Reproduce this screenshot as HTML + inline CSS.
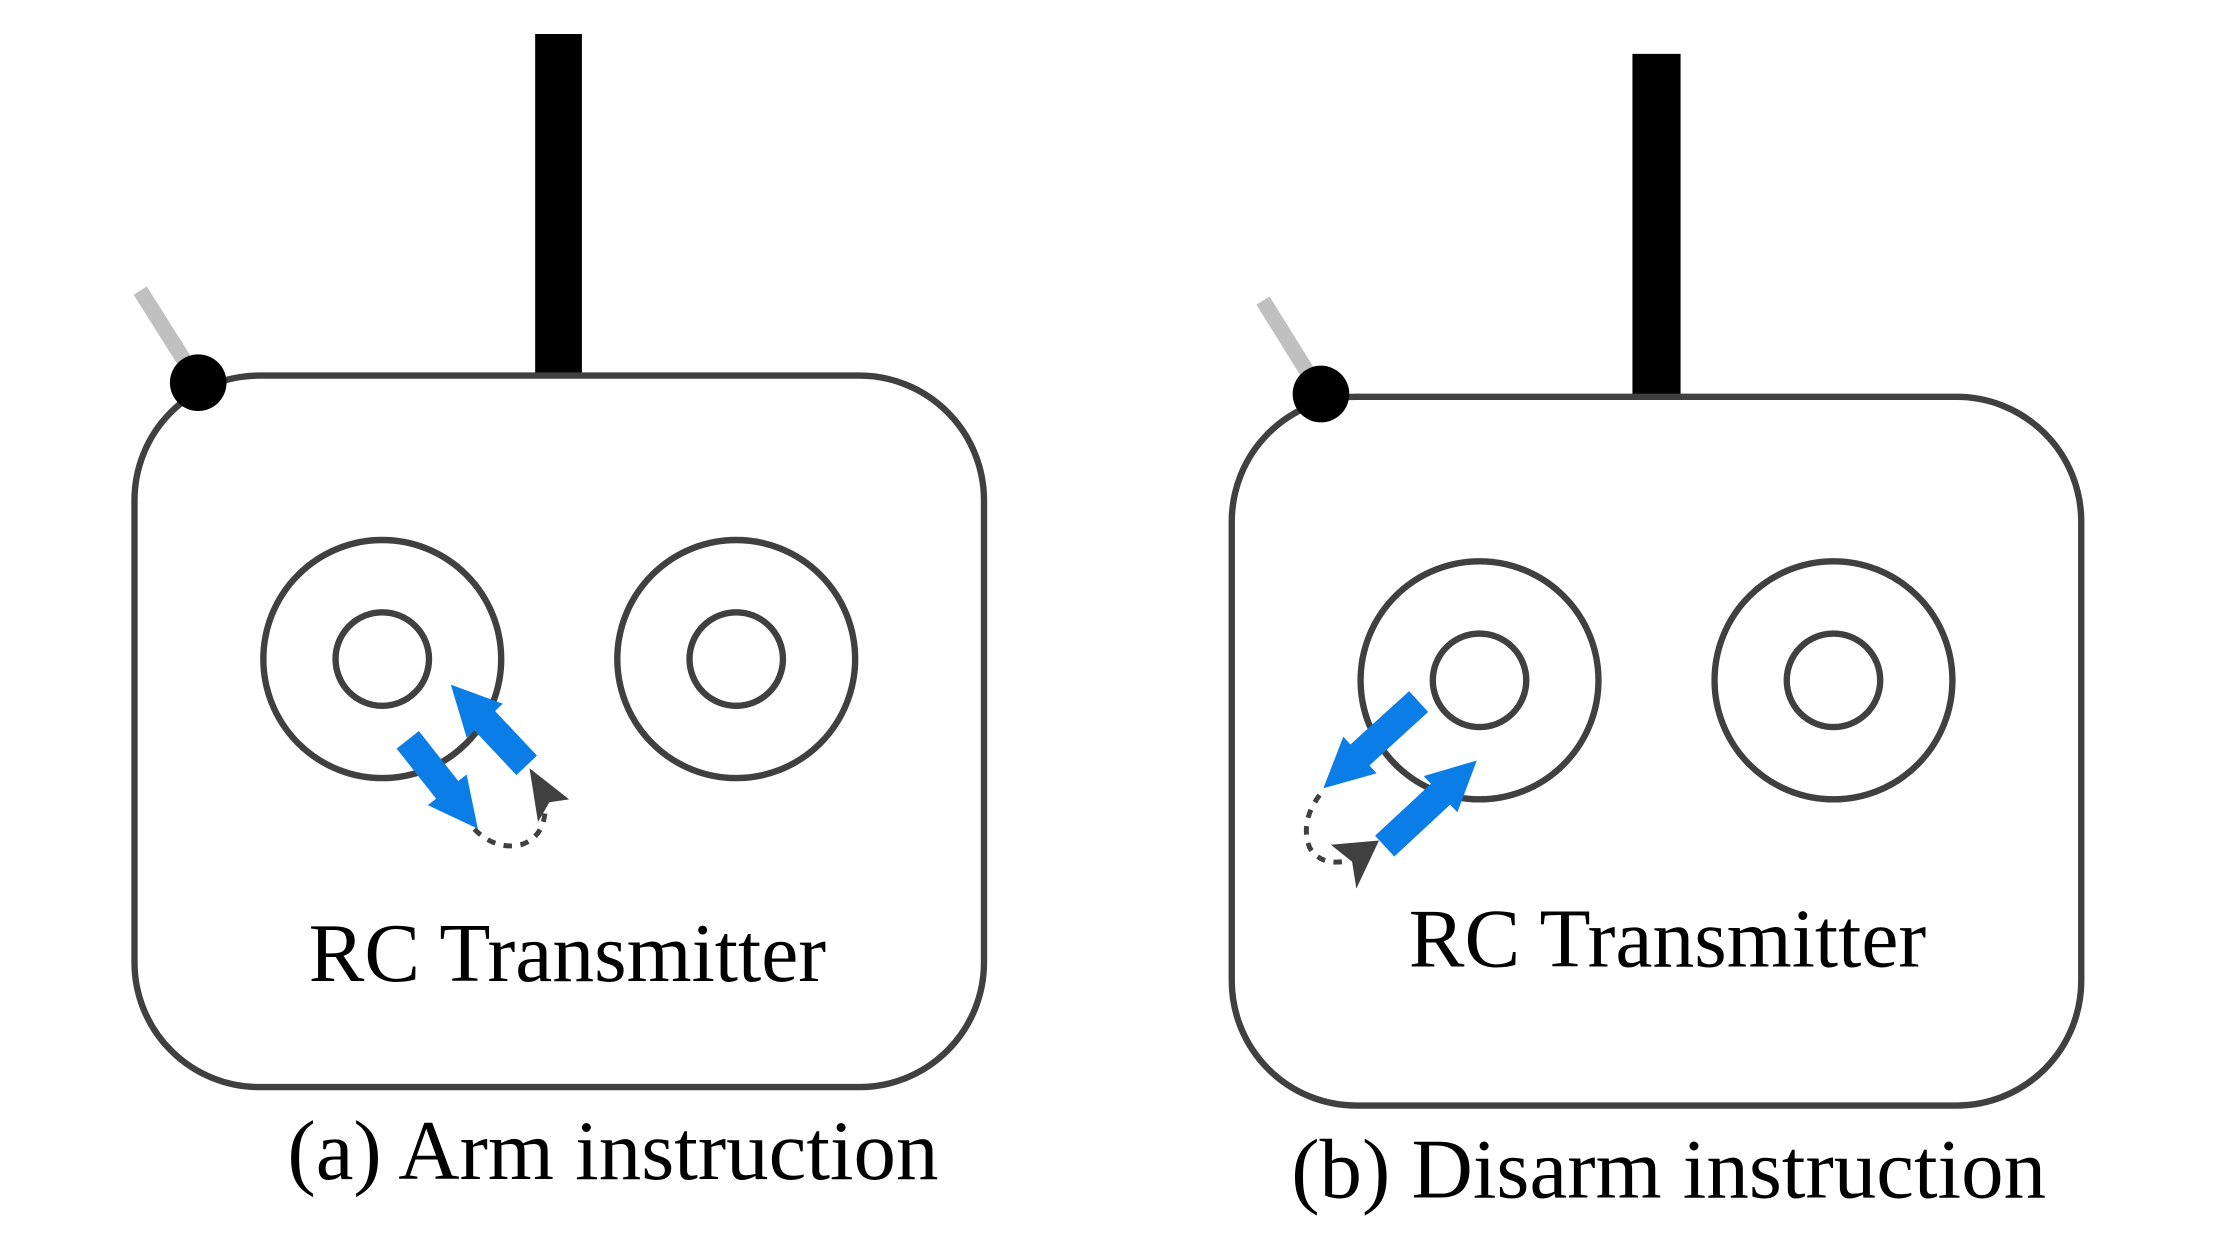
<!DOCTYPE html>
<html><head><meta charset="utf-8"><style>
html,body{margin:0;padding:0;background:#fff;}
svg{display:block;}
text{font-family:"Liberation Serif",serif;fill:#000;}
</style></head><body>
<svg width="2220" height="1260" viewBox="0 0 1568 889" preserveAspectRatio="none" xmlns="http://www.w3.org/2000/svg">
<defs>
<marker id="bh" viewBox="0 0 10 10" refX="1" refY="5" markerWidth="1.75" markerHeight="1.75" markerUnits="strokeWidth" orient="auto"><path d="M0,0 L10,5 L0,10 z" fill="#0a7de6"/></marker>
</defs>
<!-- Panel a -->
<line x1="99" y1="205" x2="135" y2="262" stroke="#c0c0c0" stroke-width="11"/>
<rect x="378" y="24" width="33" height="243" fill="#000"/>
<rect x="95" y="265" width="600" height="502" rx="88" ry="88" fill="none" stroke="#404040" stroke-width="4.5"/>
<circle cx="140" cy="270" r="20" fill="#000"/>
<circle cx="270" cy="465" r="84" fill="none" stroke="#404040" stroke-width="4.5"/>
<circle cx="270" cy="465" r="33" fill="none" stroke="#404040" stroke-width="4.5"/>
<circle cx="520" cy="465" r="84" fill="none" stroke="#404040" stroke-width="4.5"/>
<circle cx="520" cy="465" r="33" fill="none" stroke="#404040" stroke-width="4.5"/>
<line x1="288" y1="522" x2="318" y2="560" stroke="#0a7de6" stroke-width="20" marker-end="url(#bh)"/>
<line x1="372" y1="540" x2="340" y2="506" stroke="#0a7de6" stroke-width="20" marker-end="url(#bh)"/>
<path d="M335,585 Q350,600 368,596 Q386,590 385,567" fill="none" stroke="#404040" stroke-width="3.5" stroke-dasharray="6,6"/>
<path d="M374,542 L402,564 L388,566 L380,580 z" fill="#404040"/>
<text x="218" y="692" font-size="59">RC Transmitter</text>
<text x="203" y="832" font-size="60">(a) Arm instruction</text>
<!-- Panel b -->
<line x1="892" y1="212" x2="925" y2="265" stroke="#c0c0c0" stroke-width="11"/>
<rect x="1153" y="38" width="34" height="243" fill="#000"/>
<rect x="870" y="280" width="600" height="500" rx="88" ry="88" fill="none" stroke="#404040" stroke-width="4.5"/>
<circle cx="933" cy="278" r="20" fill="#000"/>
<circle cx="1045" cy="480" r="84" fill="none" stroke="#404040" stroke-width="4.5"/>
<circle cx="1045" cy="480" r="33" fill="none" stroke="#404040" stroke-width="4.5"/>
<circle cx="1295" cy="480" r="84" fill="none" stroke="#404040" stroke-width="4.5"/>
<circle cx="1295" cy="480" r="33" fill="none" stroke="#404040" stroke-width="4.5"/>
<line x1="1002" y1="495" x2="958" y2="535" stroke="#0a7de6" stroke-width="20" marker-end="url(#bh)"/>
<line x1="978" y1="597" x2="1020" y2="558" stroke="#0a7de6" stroke-width="20" marker-end="url(#bh)"/>
<path d="M932,561 Q918,580 925,598 Q932,610 948,608" fill="none" stroke="#404040" stroke-width="3.5" stroke-dasharray="6,6"/>
<path d="M940,596 L974,593 L958,627 L955,608 z" fill="#404040"/>
<text x="995" y="682" font-size="59">RC Transmitter</text>
<text x="912" y="845" font-size="60">(b) Disarm instruction</text>
</svg>
</body></html>
